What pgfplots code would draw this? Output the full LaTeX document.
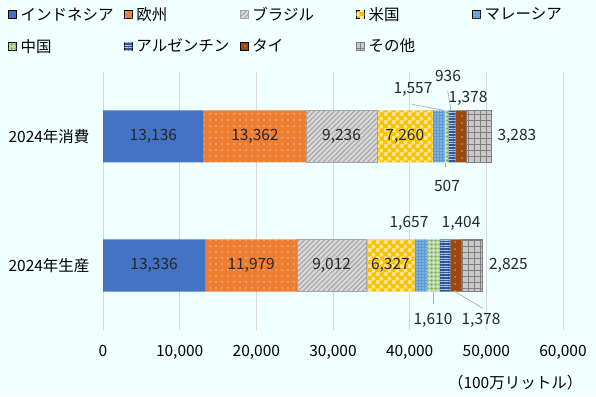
\documentclass[border=0pt]{standalone}
\usepackage{pgfplots}
\pgfplotsset{compat=1.18}
\usepackage{fontspec}
\setmainfont{Noto Sans CJK JP}
\usetikzlibrary{patterns,patterns.meta}

\definecolor{bgc}{HTML}{F0FFFF}
\definecolor{cIdn}{HTML}{4472C4}
\definecolor{cEu}{HTML}{ED7D31}
\definecolor{cBr}{HTML}{D9D9D9}
\definecolor{cBrL}{HTML}{A5A5A5}
\definecolor{cUs}{HTML}{FFC000}
\definecolor{cUsL}{HTML}{FFE699}
\definecolor{cMy}{HTML}{5B9BD5}
\definecolor{cCn}{HTML}{C5E0B4}
\definecolor{cCnL}{HTML}{70AD47}
\definecolor{cAr}{HTML}{2F5597}
\definecolor{cArL}{HTML}{B4C7E7}
\definecolor{cTh}{HTML}{9E480E}
\definecolor{cOt}{HTML}{C9C9C9}
\definecolor{cOtL}{HTML}{7F7F7F}

% large checker for the US bars
\pgfdeclarepatternformonly{bigcheck}{\pgfpointorigin}{\pgfpoint{8pt}{8pt}}{\pgfpoint{8pt}{8pt}}{%
  \pgfpathrectangle{\pgfpointorigin}{\pgfpoint{4pt}{4pt}}%
  \pgfpathrectangle{\pgfpoint{4pt}{4pt}}{\pgfpoint{4pt}{4pt}}%
  \pgfusepath{fill}}

\newcommand{\legtxt}[1]{\makebox[105.5pt][l]{\hspace{3pt}#1}}

\pgfplotsset{
  common/.style={
    at={(103pt,66pt)}, anchor=south west,
    scale only axis, width=460pt, height=258pt,
    xmin=0, xmax=60000, ymin=-0.5, ymax=1.5,
    clip=false,
    /pgf/number format/assume math mode=true,
  },
  /pgf/number format/1000 sep={,},
}

\begin{document}
\begin{tikzpicture}[font=\fontsize{15.5}{18}\selectfont]
\useasboundingbox[fill=bgc] (0,0) rectangle (596pt,396pt);

\begin{axis}[
  common,
  xbar stacked, bar width=52pt,
  xtick={0,10000,...,60000},
  ytick={0,1}, yticklabels={2024年生産,2024年消費},
  xmajorgrids, grid style={draw=black!15, line width=0.8pt},
  axis line style={draw=none},
  major tick length=0pt,
  scaled x ticks=false,
  xticklabel style={yshift=-12pt},
  yticklabel style={xshift=-10pt},
  xlabel={（100万リットル）},
  xlabel style={at={(axis description cs:0.896,0)}, anchor=north, yshift=-42pt},
  legend columns=5,
  legend style={draw=none, fill=none, at={(axis description cs:0,1)}, anchor=north west,
    xshift=-98pt, yshift=68pt, row sep=15pt, nodes={inner sep=1pt}},
  legend image code/.code={\draw[#1] (0pt,-4pt) rectangle (8pt,4pt);},
]
\addplot[fill=cIdn, draw=none] coordinates {(13136,1) (13336,0)};
\addplot[fill=cEu, draw=none, postaction={pattern={Dots[distance=6pt, radius=0.6pt]}, pattern color=white}] coordinates {(13362,1) (11979,0)};
\addplot[fill=cBr, draw=cBrL, postaction={pattern={Lines[angle=45, distance=3.5pt, line width=1.1pt]}, pattern color=cBrL}] coordinates {(9236,1) (9012,0)};
\addplot[fill=cUs, draw=none, postaction={pattern=bigcheck, pattern color=cUsL}] coordinates {(7260,1) (6327,0)};
\addplot[fill=cMy, draw=none, postaction={pattern={Dots[distance=3pt, radius=0.55pt]}, pattern color=white}] coordinates {(1557,1) (1657,0)};
\addplot[fill=cCn, draw=none, postaction={pattern={Hatch[distance=4pt, line width=0.8pt]}, pattern color=cCnL}] coordinates {(507,1) (1610,0)};
\addplot[fill=cAr, draw=none, postaction={pattern={Lines[angle=0, distance=2.6pt, line width=0.9pt]}, pattern color=cArL}] coordinates {(936,1) (1404,0)};
\addplot[fill=cTh, draw=none, postaction={pattern={Dots[distance=7pt, radius=0.6pt]}, pattern color=white}] coordinates {(1378,1) (1378,0)};
\addplot[fill=cOt, draw=cOtL, line width=0.8pt, postaction={pattern={Hatch[distance=6pt, line width=0.4pt]}, pattern color=cOtL}] coordinates {(3283,1) (2825,0)};
\legend{\legtxt{インドネシア},\legtxt{欧州},\legtxt{ブラジル},\legtxt{米国},\legtxt{マレーシア},
  \legtxt{中国},\legtxt{アルゼンチン},\legtxt{タイ},\legtxt{その他}}
\end{axis}

% labels and leader lines, not stacked
\begin{axis}[common, hide axis]
\addplot[gray!70, line width=0.6pt] coordinates {(40265,1.250) (44387,1.204)};
\addplot[gray!70, line width=0.6pt] coordinates {(44957,1.354) (45391,1.204)};
\addplot[gray!70, line width=0.6pt] coordinates {(44609,0.798) (44609,0.760)};
\addplot[gray!70, line width=0.6pt] coordinates {(43043,-0.202) (43043,-0.302)};
\addplot[gray!70, line width=0.6pt] coordinates {(45913,-0.202) (49565,-0.333)};
\addplot[only marks, mark=none, point meta=explicit, nodes near coords,
  every node near coord/.append style={anchor=center, text=black!85}]
  coordinates {
  (6568,1) [13136] (19817,1) [13362] (31116,1) [9236] (39364,1) [7260]
  (40435,1.364) [1557] (45000,1.473) [936] (47609,1.295) [1378] (44870,0.62) [507]
  (6668,0) [13336] (19326,0) [11979] (29821,0) [9012] (37491,0) [6327]
  (39913,0.326) [1657] (46696,0.326) [1404] (43043,-0.426) [1610] (49304,-0.426) [1378]
  };
\addplot[only marks, mark=none, point meta=explicit, nodes near coords,
  every node near coord/.append style={anchor=west, text=black!85}]
  coordinates {(51000,1) [3283] (49900,0) [2825]};
\end{axis}
\end{tikzpicture}
\end{document}
